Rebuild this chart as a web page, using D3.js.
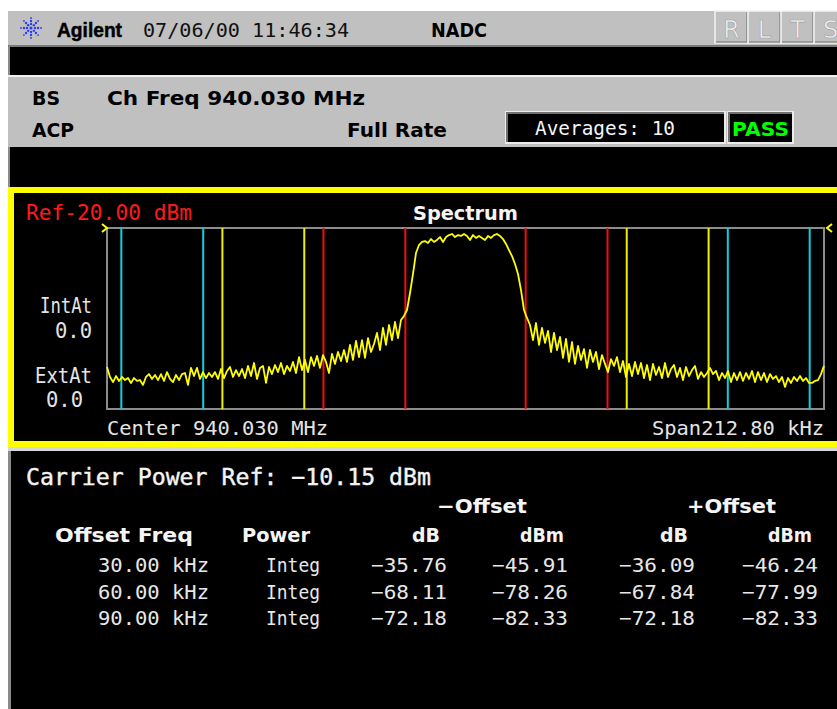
<!doctype html>
<html>
<head>
<meta charset="UTF-8">
<script src="https://cdn.jsdelivr.net/npm/d3@7/dist/d3.min.js"></script>
<style>
body { margin: 0; background: #fff; }
</style>
</head>
<body>
<svg id="screen"></svg>
<script>
// values shown on the analyzer screen
var headerDate = "07/06/00 11:46:34";
var system = "NADC";
var chFreqMhz = 940.030;
var averages = 10;
var refLevel = -20.00;
var spanKhz = 212.80;
var carrierRef = -10.15;

// ACP offsets and integration bandwidth
var offsetKhz = [30, 60, 90];
var integBwKhz = 24.3;

// results table
var offsetLabels = ["30.00 kHz", "60.00 kHz", "90.00 kHz"];
var powerMode = ["Integ", "Integ", "Integ"];
var lowerDb = [-35.76, -68.11, -72.18];
var lowerDbm = [-45.91, -78.26, -82.33];
var upperDb = [-36.09, -67.84, -72.18];
var upperDbm = [-46.24, -77.99, -82.33];

// spectrum trace, dBm, evenly spaced across the span
var traceDbm = [
  -96.8,-102.3,-105.1,-101.8,-104.5,-102.3,-104.0,-102.9,-105.6,-102.9,
  -104.5,-104.0,-106.7,-102.3,-100.7,-103.4,-101.2,-104.0,-100.7,-104.5,
  -99.6,-103.4,-105.1,-101.2,-104.0,-100.7,-100.1,-106.7,-97.3,-101.8,
  -97.3,-103.4,-99.6,-102.9,-100.1,-102.3,-99.6,-103.4,-97.9,-102.9,
  -99.0,-96.8,-102.3,-98.5,-101.8,-97.9,-102.9,-96.2,-101.8,-94.6,
  -103.4,-97.3,-96.2,-105.6,-96.8,-100.7,-95.7,-99.6,
  -94.6,-100.7,-96.2,-99.0,-94.0,-100.1,-91.3,-98.5,-92.9,-99.6,
  -91.3,-96.2,-90.7,-97.3,-90.2,-94.0,-100.1,-89.6,-95.1,-88.5,
  -93.5,-87.4,-94.0,-84.6,-92.9,-82.4,-91.3,-81.9,-91.8,-80.8,
  -88.5,-84.1,-78.0,-87.4,-75.2,-84.6,-73.6,-81.9,-71.9,-80.8,
  -70.8,-68.6,
  -65.3,-55.9,-45.4,-33.8,-29.4,
  -27.7,-27.2,-28.3,-26.1,-27.7,-26.6,-25.0,-27.7,-25.0,-23.9,
  -23.3,-25.0,-23.9,-24.4,-23.3,-24.4,-26.6,-23.9,-25.5,-24.4,
  -25.5,-26.6,-24.4,-25.5,-23.9,-23.3,-24.4,-26.1,
  -28.8,-32.2,-35.5,-39.9,-45.4,-54.3,-65.3,-69.7,
  -73.6,-81.9,-72.5,-84.6,-75.2,-83.5,-76.9,-88.5,-78.0,-87.4,
  -80.2,-91.8,-81.3,-94.0,-83.0,-95.1,-85.2,-92.9,-86.9,-97.3,
  -87.4,-94.0,-88.5,-97.9,-90.2,-95.1,-99.6,
  -92.4,-96.2,-91.3,-99.6,-93.5,-102.3,-95.1,-101.8,-94.0,-100.7,
  -94.6,-102.9,-95.7,-104.0,-95.1,-101.2,-96.8,-102.9,-94.6,-102.3,
  -97.9,-95.7,-102.3,-97.3,-104.0,-96.8,-101.8,-98.5,-96.2,-103.4,
  -99.6,-102.3,-100.1,-97.3,-100.7,-99.0,-104.0,-100.1,-102.9,-99.0,
  -105.1,-100.1,-104.0,-99.6,-104.5,-100.1,-103.4,-99.0,-105.1,-99.6,
  -104.0,-100.1,-105.1,-100.7,-103.4,-101.8,-105.1,-102.3,-107.8,-102.9,
  -105.6,-102.3,-104.5,-101.8,-104.5,-102.9,-105.6,-105.6,-104.5,-104.0,
  -100.7,-96.2
];

// styling
var width = 837, height = 709;
var MONO = "'DejaVu Sans Mono', monospace";
var BOLD = "'DejaVu Sans', sans-serif";
var GRAY = "#c0c0c0";
var offsetColors = ["#f01010", "#f0f000", "#10d0e0"];
var traceColor = "#ffff00";
var fmt = d3.format(".2f");

var svg = d3.select("#screen").attr("width", width).attr("height", height);

function label(g, s, x, y, o) {
    o = o || {};
    var t = g.append("text").attr("x", x).attr("y", y).text(s)
        .attr("font-family", o.family || MONO)
        .attr("font-size", o.size || 20)
        .attr("font-weight", o.weight || "normal")
        .attr("fill", o.fill || "#000")
        .attr("text-anchor", o.anchor || "start");
    if (o.w) t.attr("textLength", o.w).attr("lengthAdjust", "spacingAndGlyphs");
    return t;
}

function rect(x, y, w, h, fill) {
    return svg.append("rect").attr("x", x).attr("y", y).attr("width", w).attr("height", h).attr("fill", fill);
}

// ---- frame / background
rect(0, 0, width, height, "#fff");
rect(8, 11, width - 8, height - 11, "#8a8a8a");

// ---- title bar
rect(8, 11, width - 8, 35, GRAY);
rect(8, 45, width - 8, 2, "#7a7a7a");

// agilent spark logo
var logo = svg.append("g").attr("transform", "translate(31,28)");
d3.range(8).forEach(function(k) {
    var a = k * Math.PI / 4;
    [4, 7, 10].forEach(function(r) {
        logo.append("circle").attr("cx", r * Math.cos(a)).attr("cy", r * Math.sin(a))
            .attr("r", r == 10 ? 0.9 : 1.2).attr("fill", "#2a3cff");
    });
});
logo.append("circle").attr("r", 1.6).attr("fill", "#2a3cff");

label(svg, "Agilent", 57, 37, {family: "'Liberation Sans', Arial, sans-serif", weight: "bold", size: 21, w: 65})
    .attr("stroke", "#000").attr("stroke-width", 0.5);
label(svg, headerDate, 143, 37, {size: 20, w: 206, fill: "#111"});
label(svg, system, 431, 37, {family: BOLD, weight: "bold", size: 19, w: 56});

["R", "L", "T", "S"].forEach(function(c, i) {
    var bx = 715 + i * 33;
    rect(bx, 11, 33, 32, GRAY).attr("stroke", "#f4f4f4").attr("stroke-width", 1.5);
    svg.append("path").attr("d", "M" + (bx + 1) + "," + 42 + "H" + (bx + 32) + "V12")
        .attr("stroke", "#8a8a8a").attr("fill", "none").attr("stroke-width", 1.5);
    label(svg, c, bx + 16.5, 38, {family: "'DejaVu Sans', sans-serif", size: 24, anchor: "middle", fill: "#f0f0f0"})
        .attr("stroke", "#a0a0a0").attr("stroke-width", 0.6);
});

// ---- status area
rect(10, 47, width - 10, 28, "#000");
rect(8, 75, width - 8, 2, "#f0f0f0");
rect(8, 77, width - 8, 70, GRAY);

label(svg, "BS", 32, 105, {family: BOLD, weight: "bold", w: 28});
label(svg, "Ch Freq " + d3.format(".3f")(chFreqMhz) + " MHz", 107, 105, {family: BOLD, weight: "bold", w: 258});
label(svg, "ACP", 32, 137, {family: BOLD, weight: "bold", w: 42});
label(svg, "Full Rate", 347, 137, {family: BOLD, weight: "bold", w: 100});

rect(506, 112, 219, 31, "#000").attr("stroke", "#ececec").attr("stroke-width", 2);
svg.append("path").attr("d", "M507,142V113H724").attr("stroke", "#707070").attr("fill", "none").attr("stroke-width", 2);
label(svg, "Averages: " + averages, 535, 135, {size: 19, w: 140, fill: "#f4f4f4"});

rect(728, 112, 65, 31, "#000").attr("stroke", "#ececec").attr("stroke-width", 2);
svg.append("path").attr("d", "M729,142V113H792").attr("stroke", "#707070").attr("fill", "none").attr("stroke-width", 2);
label(svg, "PASS", 732, 136, {family: BOLD, weight: "bold", w: 57, fill: "#00ff00"});

rect(10, 147, width - 10, 40, "#000");

// ---- spectrum window
rect(8, 187, width - 8, 260, "#ffff00");
rect(14, 193, width - 14, 248, "#000");

var x = d3.scaleLinear().domain([-spanKhz / 2, spanKhz / 2]).range([107, 824]);
var y = d3.scaleLinear().domain([refLevel - 100, refLevel]).range([409, 228]);
var binToKhz = d3.scaleLinear().domain([0, traceDbm.length - 1]).range([-spanKhz / 2, spanKhz / 2]);

label(svg, "Ref" + fmt(refLevel).replace("\u2212", "-") + " dBm", 26, 220, {size: 21, w: 166, fill: "#ff1a1a"});
label(svg, "Spectrum", 413, 220, {family: BOLD, weight: "bold", w: 105, fill: "#f4f4f4"});

label(svg, "IntAt", 92, 313, {size: 21, anchor: "end", w: 52, fill: "#e4e4e4"});
label(svg, "0.0", 92, 338, {size: 21, anchor: "end", w: 37, fill: "#e4e4e4"});
label(svg, "ExtAt", 92, 383, {size: 21, anchor: "end", w: 57, fill: "#e4e4e4"});
label(svg, "0.0", 83, 407, {size: 21, anchor: "end", w: 37, fill: "#e4e4e4"});

svg.append("rect").attr("x", x(-spanKhz / 2)).attr("y", y(refLevel))
    .attr("width", x(spanKhz / 2) - x(-spanKhz / 2)).attr("height", y(refLevel - 100) - y(refLevel))
    .attr("fill", "none").attr("stroke", "#8c8c8c").attr("stroke-width", 2);

// offset integration band edges
var edges = [];
offsetKhz.forEach(function(f, k) {
    [-1, 1].forEach(function(side) {
        edges.push({f: side * f - integBwKhz / 2, k: k});
        edges.push({f: side * f + integBwKhz / 2, k: k});
    });
});
svg.append("g").selectAll("line").data(edges).join("line")
    .attr("x1", function(d) { return x(d.f); }).attr("x2", function(d) { return x(d.f); })
    .attr("y1", y(refLevel)).attr("y2", y(refLevel - 100))
    .attr("stroke", function(d) { return offsetColors[d.k]; })
    .attr("stroke-width", 2);

// trace
var line = d3.line()
    .x(function(d, i) { return x(binToKhz(i)); })
    .y(function(d) { return y(d); });
svg.append("path").datum(traceDbm).attr("d", line)
    .attr("fill", "none").attr("stroke", traceColor).attr("stroke-width", 1.8)
    .attr("stroke-linejoin", "round");

// ref level markers
var ry = y(refLevel), lx = x(-spanKhz / 2), rx = x(spanKhz / 2);
svg.append("path").attr("d", "M" + (lx - 5) + "," + (ry - 4) + "L" + lx + "," + ry + "L" + (lx - 5) + "," + (ry + 4))
    .attr("stroke", traceColor).attr("fill", "none").attr("stroke-width", 2);
svg.append("path").attr("d", "M" + (rx + 8) + "," + (ry - 4) + "L" + (rx + 3) + "," + ry + "L" + (rx + 8) + "," + (ry + 4))
    .attr("stroke", traceColor).attr("fill", "none").attr("stroke-width", 2);

label(svg, "Center " + d3.format(".3f")(chFreqMhz) + " MHz", 107, 435, {size: 20, w: 221, fill: "#e4e4e4"});
label(svg, "Span" + fmt(spanKhz) + " kHz", 824, 435, {size: 20, anchor: "end", w: 172, fill: "#e4e4e4"});

// ---- results
rect(8, 447, width - 8, 4, "#d8d8d8");
rect(11, 451, width - 11, height - 451, "#000");

label(svg, "Carrier Power Ref:  " + fmt(carrierRef) + " dBm", 26, 485, {size: 23, w: 405, fill: "#f4f4f4"})
    .attr("stroke", "#f4f4f4").attr("stroke-width", 0.4);

var hdr = {family: BOLD, weight: "bold", fill: "#f4f4f4"};
label(svg, "\u2212Offset", 437, 513, Object.assign({w: 90}, hdr));
label(svg, "+Offset", 687, 513, Object.assign({w: 89}, hdr));
label(svg, "Offset Freq", 55, 542, Object.assign({w: 138}, hdr));
label(svg, "Power", 242, 542, Object.assign({w: 68}, hdr));

var colRight = [447, 568, 695, 818];
var headRight = [440, 564, 688, 812];
var colHead = ["dB", "dBm", "dB", "dBm"];
colHead.forEach(function(h, c) {
    label(svg, h, headRight[c], 542, Object.assign({anchor: "end", w: h.length == 2 ? 28 : 44}, hdr));
});

var rowY = d3.scalePoint().domain(d3.range(offsetLabels.length)).range([572, 625]);
var cols = [lowerDb, lowerDbm, upperDb, upperDbm];
offsetLabels.forEach(function(s, r) {
    var yy = rowY(r);
    label(svg, s, 209, yy, {anchor: "end", w: 111, fill: "#e8e8e8"});
    label(svg, powerMode[r], 266, yy, {w: 54, fill: "#e8e8e8"});
    cols.forEach(function(col, c) {
        label(svg, fmt(col[r]), colRight[c], yy, {anchor: "end", w: 76, fill: "#e8e8e8"});
    });
});
</script>
</body>
</html>
